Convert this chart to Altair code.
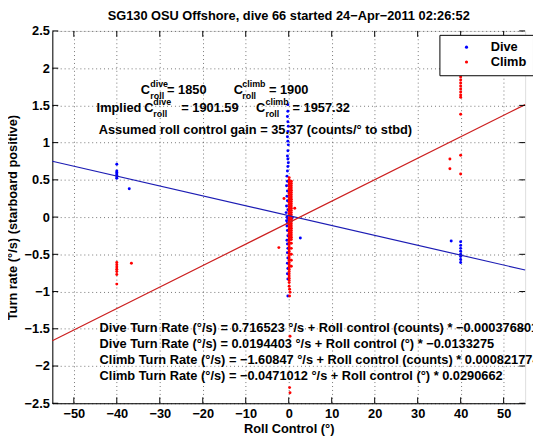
import altair as alt
import pandas as pd

FONT = "Liberation Sans"

title_text = "SG130 OSU Offshore, dive 66 started 24\u2212Apr\u22122011 02:26:52"
x_ticks = [-50, -40, -30, -20, -10, 0, 10, 20, 30, 40, 50]
y_ticks = [-2.5, -2.0, -1.5, -1.0, -0.5, 0.0, 0.5, 1.0, 1.5, 2.0, 2.5]

# Dive samples (roll control deg, turn rate deg/s)
dive_roll = [-0.2, -0.2, -0.3, -0.2, -0.1, -0.2, -0.3, -0.2, -0.1, -0.2, -0.3, -0.2, -0.1, -0.2,
             -0.3, -0.4, -0.3, -0.5, -0.3, -0.4, -0.3, -0.5, -0.2, -0.6, 0.4, -0.4, 0.8, -0.2,
             -0.5, -0.3, -0.4, -0.3, -0.2, -0.4, -0.3, -0.2, -0.3, -0.2, -0.3, -0.2, -0.3, -0.2,
             -0.2, 2.7,
             -40, -40, -40, -40, -40, -40, -40, -37.1,
             40, 40, 40, 40, 40, 40, 40, 40, 37.8]
dive_turn = [1.51, 1.42, 1.35, 1.28, 1.22, 1.15, 1.08, 1.02, 0.97, 0.89, 0.82, 0.78, 0.73, 0.68,
             0.62, 0.55, 0.48, 0.42, 0.35, 0.28, 0.22, 0.15, 0.10, 0.06, 0.03, 0.0, -0.01, -0.02,
             -0.05, -0.08, -0.12, -0.18, -0.25, -0.31, -0.36, -0.42, -0.48, -0.55, -0.62, -0.69, -0.76, -0.83,
             -1.06, -0.28,
             0.71, 0.62, 0.60, 0.58, 0.56, 0.54, 0.52, 0.38,
             -0.33, -0.38, -0.42, -0.46, -0.50, -0.53, -0.57, -0.61, -0.32]

# Climb samples
climb_roll = [0.1, 0.1, 0.1, 0.1, 0.1, 0.1, 0.1, 0.1, 0.1, 0.1, 0.1, 0.1, 0.1, 0.1, 0.1, 0.1,
              0.1, 0.1, 0.1, 0.1, 0.1, 0.1, 0.1, 0.1, 0.1, 0.1, 0.1, 0.1, 0.1, 0.1, 0.1, 0.1,
              0.1, 0.1, 0.1, 0.1, 0.1, 0.1, 0.1, 0.1, 0.1, 0.1, 0.1, 0.1, 0.1, 0.1, 0.1, 0.1, 0.1,
              0.6, 0.6, 0.6, 0.6, 0.6, 0.6, 0.6, 0.6, 0.6, 0.6, 0.6, 0.6, 0.6, 0.6, 0.6, 0.6,
              0.6, 0.6, 0.6, 0.6, 0.6, 0.6, 0.6, 0.6, 0.6, 0.6, 0.6, 0.6, 0.6, 0.6, 0.6, 0.6,
              0.2, 0.3, 0.2, 0.3, 0.2, 0.3, -2.3, 1.4, -1.1,
              -40, -40, -40, -40, -40, -40, -40, -36.6,
              40, 40, 40, 40, 40, 40, 40, 40, 40, 37.5, 37.5, 40, 40]
climb_turn = [0.53, 0.50, 0.47, 0.44, 0.41, 0.38, 0.35, 0.32, 0.29, 0.26, 0.23, 0.20, 0.17, 0.14, 0.11, 0.08,
              0.05, 0.02, -0.01, -0.04, -0.07, -0.10, -0.13, -0.16, -0.19, -0.22, -0.25, -0.28, -0.31, -0.34, -0.37, -0.40,
              -0.43, -0.46, -0.49, -0.52, -0.55, -0.58, -0.61, -0.64, -0.67, -0.70, -0.73, -0.76, -0.79, -0.82, -0.85, -0.88, -0.93,
              0.48, 0.45, 0.42, 0.39, 0.36, 0.33, 0.30, 0.27, 0.24, 0.21, 0.18, 0.15, 0.12, 0.09, 0.06, 0.03,
              0.00, -0.03, -0.06, -0.09, -0.12, -0.15, -0.18, -0.21, -0.24, -0.27, -0.30, -0.35, -0.42, -0.50, -0.58, -0.66,
              -0.97, -1.01, -1.06, -1.60, -2.29, -2.36, -0.41, 0.12, 0.25,
              -0.61, -0.64, -0.67, -0.70, -0.73, -0.77, -0.90, -0.62,
              1.88, 1.84, 1.80, 1.76, 1.72, 1.68, 1.64, 1.61, 1.38, 0.78, 0.65, 0.83, 0.58]

# Linear fits, read at the plot edges
fit_roll = [-55, 55]
dive_fit = [0.75, -0.71]
climb_fit = [-1.66, 1.51]

series_names = ["Dive", "Climb"]

# Annotation texts (MATLAB-style text placed in data coordinates)
ann_text = [
    "C", "dive", "roll", "= 1850", "C", "climb", "roll", "= 1900",
    "Implied", "C", "dive", "roll", "= 1901.59", "C", "climb", "roll", "= 1957.32",
    "Assumed roll control gain = 35.37 (counts/\u00b0 to stbd)",
    "Dive Turn Rate (\u00b0/s) = 0.716523 \u00b0/s + Roll control (counts) * \u22120.000376801",
    "Dive Turn Rate (\u00b0/s) = 0.0194403 \u00b0/s + Roll control (\u00b0) * \u22120.0133275",
    "Climb Turn Rate (\u00b0/s) = \u22121.60847 \u00b0/s + Roll control (counts) * 0.000821774",
    "Climb Turn Rate (\u00b0/s) = \u22120.0471012 \u00b0/s + Roll control (\u00b0) * 0.0290662",
]
ann_x = [-34.4, -32.2, -32.2, -28.3, -12.8, -10.8, -10.8, -4.6,
         -44.7, -33.6, -31.5, -31.5, -25.0, -7.6, -5.4, -5.4, 0.9,
         -44.2, -44.0, -44.0, -44.0, -44.0]
ann_y = [1.706, 1.780, 1.620, 1.706, 1.706, 1.780, 1.620, 1.706,
         1.468, 1.468, 1.548, 1.389, 1.468, 1.468, 1.548, 1.389, 1.468,
         1.173, -1.495, -1.70, -1.918, -2.13]
ann_size = [13, 9, 9, 13, 13, 9, 9, 13,
            13, 13, 9, 9, 13, 13, 9, 9, 13,
            13, 13, 13, 13, 13]

pts_df = pd.DataFrame({
    "roll": dive_roll + climb_roll,
    "turn": dive_turn + climb_turn,
    "series": ["Dive"] * len(dive_roll) + ["Climb"] * len(climb_roll),
    "k": [0] * len(dive_roll) + [1] * len(climb_roll),
})
dive_fit_df = pd.DataFrame({"roll": fit_roll, "turn": dive_fit})
climb_fit_df = pd.DataFrame({"roll": fit_roll, "turn": climb_fit})
ann_df = pd.DataFrame({"roll": ann_x, "turn": ann_y, "text": ann_text, "size": ann_size})
xt_df = pd.DataFrame({"roll": x_ticks})
yt_df = pd.DataFrame({"turn": y_ticks})

W, H = 480, 378

x_scale = alt.Scale(domain=[-55, 55], nice=False, zero=False)
y_scale = alt.Scale(domain=[-2.5, 2.5], nice=False, zero=False)

common = dict(grid=True, ticks=False, gridDash=[1, 3], gridColor="#000000", gridOpacity=0.55,
              labelOverlap=False, labelFlush=False, format="~r",
              labelFont=FONT, labelFontSize=13, labelFontWeight="bold", labelColor="black",
              domainColor="black", titleFont=FONT, titleFontSize=13, titleFontWeight="bold",
              titleColor="black")

x_axis = alt.Axis(values=x_ticks, title="Roll Control (\u00b0)", labelPadding=4,
                  titleX=W / 2, titleY=26, titleBaseline="middle", **common)
y_axis = alt.Axis(values=y_ticks, title="Turn rate (\u00b0/s) (starboard positive)", labelPadding=3,
                  titleX=-40, titleY=H / 2, titleAngle=270, titleBaseline="middle",
                  titleAlign="center", **common)

pts = alt.Chart(pts_df).mark_circle(size=9, opacity=1).encode(
    x=alt.X("roll:Q", scale=x_scale, axis=x_axis),
    y=alt.Y("turn:Q", scale=y_scale, axis=y_axis),
    color=alt.Color("series:N",
                    scale=alt.Scale(domain=series_names, range=["#0000ff", "#ff0000"]),
                    legend=alt.Legend(title=None, orient="none", legendX=393, legendY=4,
                                      fillColor="white", strokeColor="black", padding=6,
                                      labelFont=FONT, labelFontSize=13, labelFontWeight="bold",
                                      labelColor="black", symbolType="circle", symbolSize=10,
                                      symbolOffset=15, labelOffset=18, rowPadding=1)),
    order=alt.Order("k:Q"),
)

dive_line = alt.Chart(dive_fit_df).mark_line(color="#1c1cb4", strokeWidth=1.2).encode(
    x=alt.X("roll:Q", axis=x_axis), y=alt.Y("turn:Q", axis=y_axis))
climb_line = alt.Chart(climb_fit_df).mark_line(color="#cc1f1f", strokeWidth=1.2).encode(
    x=alt.X("roll:Q", axis=x_axis), y=alt.Y("turn:Q", axis=y_axis))

xt_bottom = alt.Chart(xt_df).mark_rule(color="black").encode(
    x=alt.X("roll:Q", axis=x_axis), y=alt.value(H), y2=alt.value(H - 6))
xt_top = alt.Chart(xt_df).mark_rule(color="black").encode(
    x=alt.X("roll:Q", axis=x_axis), y=alt.value(0), y2=alt.value(6))
yt_left = alt.Chart(yt_df).mark_rule(color="black").encode(
    y=alt.Y("turn:Q", axis=y_axis), x=alt.value(0), x2=alt.value(6))
yt_right = alt.Chart(yt_df).mark_rule(color="black").encode(
    y=alt.Y("turn:Q", axis=y_axis), x=alt.value(W), x2=alt.value(W - 6))

ann = alt.Chart(ann_df).mark_text(align="left", baseline="middle", font=FONT,
                                   fontWeight="bold", color="black").encode(
    x=alt.X("roll:Q", axis=x_axis), y=alt.Y("turn:Q", axis=y_axis),
    text="text:N", size=alt.Size("size:Q", scale=None))

chart = alt.layer(pts, dive_line, climb_line, xt_bottom, xt_top, yt_left, yt_right, ann).properties(
    width=W, height=H,
    title=alt.TitleParams(title_text, font=FONT, fontSize=13, fontWeight="bold", color="black",
                          anchor="middle", offset=2),
    padding={"left": 45, "top": 20, "right": 8, "bottom": 32},
    autosize=alt.AutoSizeParams(type="none"),
).configure_view(stroke="black", strokeWidth=1).configure(background="white")

chart.save("out.html", embed_options={"renderer": "svg", "actions": False})
